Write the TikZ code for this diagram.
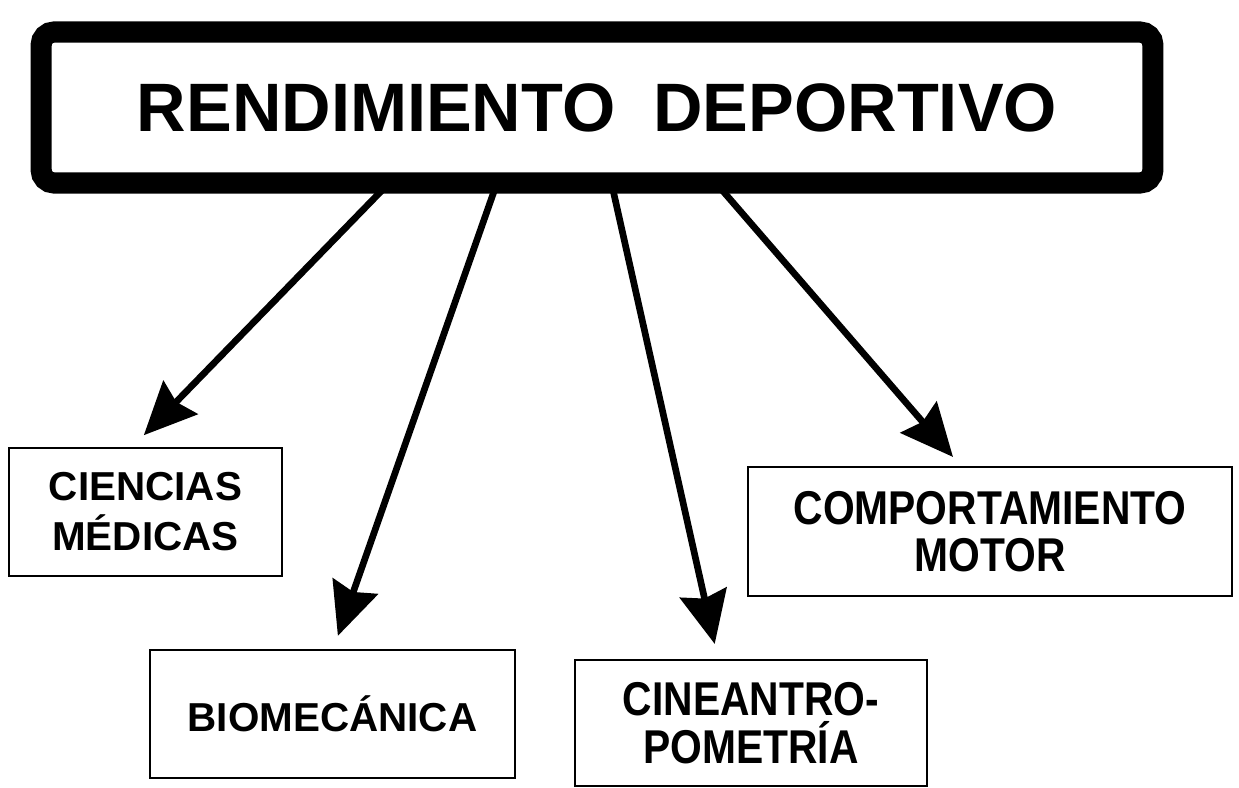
\documentclass[tikz,border=0pt]{standalone}
\usepackage{fontspec}
\setmainfont{Liberation Sans}
\newfontfamily\narrowfont{Liberation Sans}[FakeStretch=0.86]
\usetikzlibrary{arrows.meta,positioning,calc}

\begin{document}
\begin{tikzpicture}[x=0.02cm,y=-0.02cm,
  title node/.style={draw,line width=12pt,rounded corners=0.26cm,outer sep=0pt,inner sep=0pt,minimum width=22.24cm,minimum height=3.02cm,font=\fontsize{39}{47}\selectfont\bfseries},
  area node/.style={draw,line width=1.1pt,inner sep=0pt,align=center,font=\fontsize{23}{28.5}\selectfont\bfseries},
  narrow node/.style={area node,font=\narrowfont\bfseries\fontsize{27}{27}\selectfont},
  link/.style={line width=3.8pt,-{Stealth[length=1.05cm,width=0.95cm,inset=0.12cm]}}]
  \useasboundingbox (0,0) rectangle (1239,787);

  \node[title node] (rend) at (597,107.5) {RENDIMIENTO\ \ DEPORTIVO};
  \node[area node,minimum width=5.46cm,minimum height=2.56cm] (cien) at (145.5,512) {CIENCIAS\\MÉDICAS};
  \node[area node,minimum width=7.3cm,minimum height=2.56cm] (biom) at (332.5,714) {BIOMECÁNICA};
  \node[narrow node,minimum width=7.04cm,minimum height=2.52cm] (cine) at (751,723) {CINEANTRO-\\POMETRÍA};
  \node[narrow node,minimum width=9.68cm,minimum height=2.58cm] (comp) at (990,531.5) {COMPORTAMIENTO\\MOTOR};

  \draw[link,shorten >=0.33cm] ($(rend.south west)!0.313!(rend.south east)$) -- ($(cien.north west)!0.452!(cien.north east)$);
  \draw[link,shorten >=0.28cm] ($(rend.south west)!0.41!(rend.south east)$) -- ($(biom.north west)!0.502!(biom.north east)$);
  \draw[link,shorten >=0.31cm] ($(rend.south west)!0.513!(rend.south east)$) -- ($(cine.north west)!0.407!(cine.north east)$);
  \draw[link,shorten >=0.24cm] ($(rend.south west)!0.607!(rend.south east)$) -- ($(comp.north west)!0.44!(comp.north east)$);
\end{tikzpicture}
\end{document}
